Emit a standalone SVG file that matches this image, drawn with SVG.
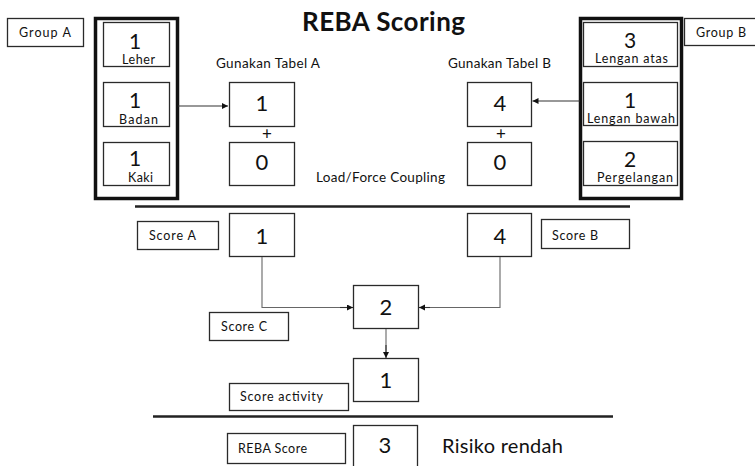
<svg xmlns="http://www.w3.org/2000/svg" width="755" height="466" viewBox="0 0 755 466">
  <defs>
    <marker id="arr" markerUnits="userSpaceOnUse" markerWidth="7" markerHeight="7" refX="6" refY="3" orient="auto">
      <path d="M0,0 L6,3 L0,6 z" fill="#111"/>
    </marker>
    <style>
      text { font-family: Lato, "Liberation Sans", sans-serif; fill: #111; }
      .box { fill: #fff; stroke: #2a2a2a; stroke-width: 1.3; }
      .grp { fill: none; stroke: #111; stroke-width: 3.5; }
      .num { font-size: 22px; text-anchor: middle; }
      .gnum { font-size: 21px; text-anchor: middle; }
      .lab { font-size: 12.5px; }
      .small { font-size: 12.5px; }
      .cap { font-size: 13.5px; }
      .sep { stroke: #222; stroke-width: 2.6; }
      .conn { fill: none; stroke: #666; stroke-width: 1.1; }
      .arrow { fill: none; stroke: #333; stroke-width: 1.1; marker-end: url(#arr); }
    </style>
  </defs>
  <rect width="755" height="466" fill="#fff"/>

  <text id="title" x="302" y="31" font-size="26" font-weight="bold" textLength="163">REBA Scoring</text>

  <g id="groupA-label">
    <rect class="box" x="7.5" y="18.5" width="76" height="28"/>
    <text class="small" x="19" y="37" textLength="52">Group A</text>
  </g>
  <g id="groupA">
    <rect class="grp" x="95.5" y="18.5" width="82" height="180"/>
    <g id="leher">
      <rect class="box" x="103.5" y="22.5" width="66" height="44"/>
      <text class="gnum" x="135" y="48.5">1</text>
      <text class="lab" x="122" y="64" textLength="33">Leher</text>
    </g>
    <g id="badan">
      <rect class="box" x="103.5" y="82.5" width="66" height="44"/>
      <text class="gnum" x="135" y="108">1</text>
      <text class="lab" x="119" y="123.5" textLength="39">Badan</text>
    </g>
    <g id="kaki">
      <rect class="box" x="103.5" y="142.5" width="66" height="43"/>
      <text class="gnum" x="135" y="166">1</text>
      <text class="lab" x="128" y="182" textLength="25">Kaki</text>
    </g>
  </g>

  <text class="cap" x="216" y="68" textLength="104">Gunakan Tabel A</text>
  <text class="cap" x="448" y="68" textLength="103">Gunakan Tabel B</text>
  <text class="cap" x="316" y="181.5" textLength="129">Load/Force Coupling</text>

  <g id="tableA">
    <rect class="box" x="229.5" y="82.5" width="65" height="44"/>
    <text class="num" x="262" y="110.5">1</text>
  </g>
  <text x="267" y="140" font-size="17" text-anchor="middle">+</text>
  <g id="couplingA">
    <rect class="box" x="229.5" y="142.5" width="65" height="43"/>
    <text class="num" x="262" y="169.5">0</text>
  </g>

  <g id="tableB">
    <rect class="box" x="467.5" y="82.5" width="64" height="44"/>
    <text class="num" x="500" y="110.5">4</text>
  </g>
  <text x="501" y="140" font-size="17" text-anchor="middle">+</text>
  <g id="couplingB">
    <rect class="box" x="467.5" y="142.5" width="64" height="43"/>
    <text class="num" x="500" y="169.5">0</text>
  </g>

  <g id="groupB">
    <rect class="grp" x="580.5" y="18.5" width="101" height="180"/>
    <g id="lengan-atas">
      <rect class="box" x="583.5" y="22.5" width="94" height="44"/>
      <text class="gnum" x="630" y="47.5">3</text>
      <text class="lab" x="595" y="62.5" textLength="73">Lengan atas</text>
    </g>
    <g id="lengan-bawah">
      <rect class="box" x="583.5" y="82.5" width="94" height="43"/>
      <text class="gnum" x="630" y="108">1</text>
      <text class="lab" x="587" y="123" textLength="88">Lengan bawah</text>
    </g>
    <g id="pergelangan">
      <rect class="box" x="583.5" y="141.5" width="94" height="44"/>
      <text class="gnum" x="630" y="166.5">2</text>
      <text class="lab" x="597" y="182" textLength="76">Pergelangan</text>
    </g>
  </g>
  <g id="groupB-label">
    <rect class="box" x="684.5" y="18.5" width="75" height="27"/>
    <text class="small" x="696" y="37" textLength="50">Group B</text>
  </g>

  <line class="sep" x1="135" y1="206.5" x2="630" y2="206.5"/>

  <g id="scoreA-label">
    <rect class="box" x="137.5" y="221.5" width="81" height="28"/>
    <text class="small" x="149" y="240" textLength="47">Score A</text>
  </g>
  <g id="scoreA">
    <rect class="box" x="229.5" y="213.5" width="65" height="43"/>
    <text class="num" x="262" y="243.5">1</text>
  </g>
  <g id="scoreB">
    <rect class="box" x="467.5" y="213.5" width="64" height="43"/>
    <text class="num" x="500" y="243.5">4</text>
  </g>
  <g id="scoreB-label">
    <rect class="box" x="541.5" y="219.5" width="88" height="29"/>
    <text class="small" x="552" y="239.5" textLength="46">Score B</text>
  </g>

  <g id="scoreC">
    <rect class="box" x="353.5" y="285.5" width="65" height="43"/>
    <text class="num" x="386" y="315">2</text>
  </g>
  <g id="scoreC-label">
    <rect class="box" x="209.5" y="312.5" width="79" height="28"/>
    <text class="small" x="221" y="331" textLength="46">Score C</text>
  </g>

  <g id="activity">
    <rect class="box" x="353.5" y="358.5" width="65" height="43"/>
    <text class="num" x="386" y="388">1</text>
  </g>
  <g id="activity-label">
    <rect class="box" x="229.5" y="383.5" width="119" height="27"/>
    <text class="small" x="240" y="400.5" textLength="83">Score activity</text>
  </g>

  <line class="sep" x1="153" y1="416.5" x2="613" y2="416.5"/>

  <g id="reba-label">
    <rect class="box" x="227.5" y="433.5" width="118" height="30"/>
    <text class="small" x="238" y="452.5" textLength="69">REBA Score</text>
  </g>
  <g id="reba">
    <rect class="box" x="353.5" y="425.5" width="64" height="50"/>
    <text class="num" x="385" y="452.5">3</text>
  </g>
  <text id="risk" x="442" y="452.5" font-size="20" textLength="121">Risiko rendah</text>

  <g id="connectors">
    <line class="arrow" x1="178" y1="106" x2="228" y2="106"/>
    <line class="arrow" x1="580" y1="101" x2="532.5" y2="101"/>
    <polyline class="conn" points="262,257 262,307.5 347,307.5"/>
    <line class="arrow" x1="340" y1="307.5" x2="353" y2="307.5"/>
    <polyline class="conn" points="500,257 500,307.5 425,307.5"/>
    <line class="arrow" x1="430" y1="307.5" x2="419" y2="307.5"/>
    <line class="conn" x1="386" y1="329" x2="386" y2="352"/>
    <line class="arrow" x1="386" y1="345" x2="386" y2="358"/>
  </g>
</svg>
